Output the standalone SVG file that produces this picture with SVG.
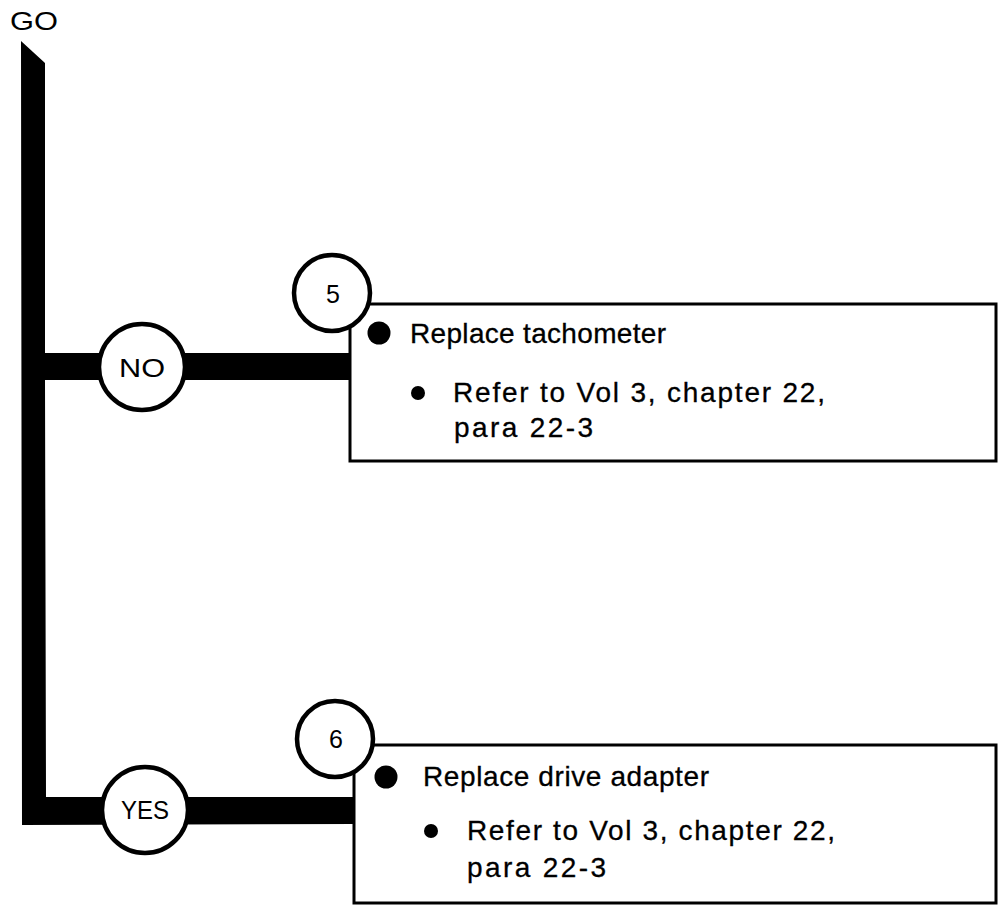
<svg xmlns="http://www.w3.org/2000/svg" width="999" height="908" viewBox="0 0 999 908">
<style>
.t{font-family:"Liberation Sans",Arial,sans-serif;fill:#000}
.lbl{font-size:25px;text-anchor:middle}
.body{font-size:28px;stroke:#000;stroke-width:0.3}
.ring{fill:#fff;stroke:#000;stroke-width:4.5}
.box{fill:#fff;stroke:#000;stroke-width:3}
.bar{fill:#000}
</style>
<rect width="999" height="908" fill="#fff"/>
<text class="t" x="10" y="30" font-size="25" textLength="48" lengthAdjust="spacingAndGlyphs">GO</text>
<g id="connectors">
<polygon class="bar" points="21,41 45,63 45,353 350,353 350,380 45,380 46,797 354,797 354,824 22,825"/>
</g>
<g id="box5">
<rect class="box" x="350" y="304" width="646" height="157"/>
<circle cx="379" cy="333" r="11.5" fill="#000"/>
<text class="t body" x="410" y="343" textLength="256">Replace tachometer</text>
<circle cx="418" cy="393" r="7" fill="#000"/>
<text class="t body" x="453" y="402" textLength="372">Refer to Vol 3, chapter 22,</text>
<text class="t body" x="454" y="437" textLength="139">para 22-3</text>
</g>
<g id="step5">
<circle class="ring" cx="332" cy="293" r="38"/>
<text class="t lbl" x="333" y="303" font-size="27">5</text>
</g>
<g id="box6">
<rect class="box" x="354" y="745" width="642" height="158"/>
<circle cx="386" cy="777" r="11.5" fill="#000"/>
<text class="t body" x="423" y="786" textLength="286">Replace drive adapter</text>
<circle cx="431" cy="831" r="7" fill="#000"/>
<text class="t body" x="467" y="840" textLength="368">Refer to Vol 3, chapter 22,</text>
<text class="t body" x="467" y="877" textLength="139">para 22-3</text>
</g>
<g id="step6">
<circle class="ring" cx="335" cy="739" r="38"/>
<text class="t lbl" x="336" y="748" font-size="27">6</text>
</g>
<g id="no">
<circle class="ring" cx="142" cy="367" r="43"/>
<text class="t lbl" x="142" y="377" textLength="46" lengthAdjust="spacingAndGlyphs">NO</text>
</g>
<g id="yes">
<circle class="ring" cx="145" cy="810" r="43"/>
<text class="t lbl" x="145" y="819" textLength="48" lengthAdjust="spacingAndGlyphs">YES</text>
</g>
</svg>
